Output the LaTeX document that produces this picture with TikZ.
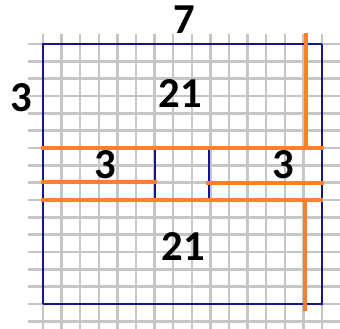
\documentclass[tikz,border=0pt]{standalone}
\usepackage{fontspec}
\setmainfont{Carlito}
\definecolor{gridgray}{RGB}{198,198,198}
\definecolor{navyline}{RGB}{22,22,140}
\definecolor{orangeline}{RGB}{255,128,44}
\begin{document}
\begin{tikzpicture}[x=0.75pt,y=-0.75pt,
  gridline/.style={draw=gridgray,line width=1.9pt},
  outline/.style={draw=navyline,line width=1.8pt},
  thinblue/.style={draw=navyline,line width=1.4pt},
  cutline/.style={draw=orangeline,line width=3.3pt},
  numlabel/.style={inner sep=0pt,font=\fontsize{32}{32}\selectfont\bfseries,text=black}]
\useasboundingbox (0,0) rectangle (340,329);
\fill[white] (0,0) rectangle (340,329);
% grid
\foreach \k in {0,...,15}{
  \draw[gridline] ({43+18.6*\k},34) -- ({43+18.6*\k},329);
}
\foreach \j in {0,...,16}{
  \draw[gridline] (28,{44+17.33*\j}) -- (340,{44+17.33*\j});
}
% blue rectangle
\coordinate (tl) at (43,44);
\coordinate (tr) at (322,44);
\coordinate (br) at (322,304);
\coordinate (bl) at (43,304);
\draw[outline,line width=2.2pt] (bl) -- (tl) -- (tr);
\draw[outline,line width=1.6pt] (tr) -- (br) -- (bl);
% inner blue lines
\coordinate (ia1) at (155,148);
\coordinate (ia2) at (155,200);
\coordinate (ib1) at (209,148);
\coordinate (ib2) at (209,200);
\draw[thinblue] (ia1) -- (ia2);
\draw[thinblue] (ib1) -- (ib2);
% orange cut lines
\coordinate (h1a) at (41,148);
\coordinate (h1b) at (324,148);
\coordinate (h2a) at (41,182);
\coordinate (h2b) at (157,182);
\coordinate (h3a) at (206,183);
\coordinate (h3b) at (324,183);
\coordinate (h4a) at (41,200);
\coordinate (h4b) at (323,200);
\coordinate (v1a) at (306,33);
\coordinate (v1b) at (306,148);
\coordinate (v2a) at (305,200);
\coordinate (v2b) at (305,311);
\draw[cutline] (h1a) -- (h1b);
\draw[cutline] (h2a) -- (h2b);
\draw[cutline] (h3a) -- (h3b);
\draw[cutline] (h4a) -- (h4b);
\draw[cutline] (v1a) -- (v1b);
\draw[cutline] (v2a) -- (v2b);
% labels
\node[numlabel] (top7) at (184,20) {7};
\node[numlabel] (left3) at (21,98) {3};
\node[numlabel] (top21) at (180,94) {21};
\node[numlabel] (mid3a) at (105,165) {3};
\node[numlabel] (mid3b) at (283,165) {3};
\node[numlabel] (bot21) at (183,247) {21};
\end{tikzpicture}
\end{document}
